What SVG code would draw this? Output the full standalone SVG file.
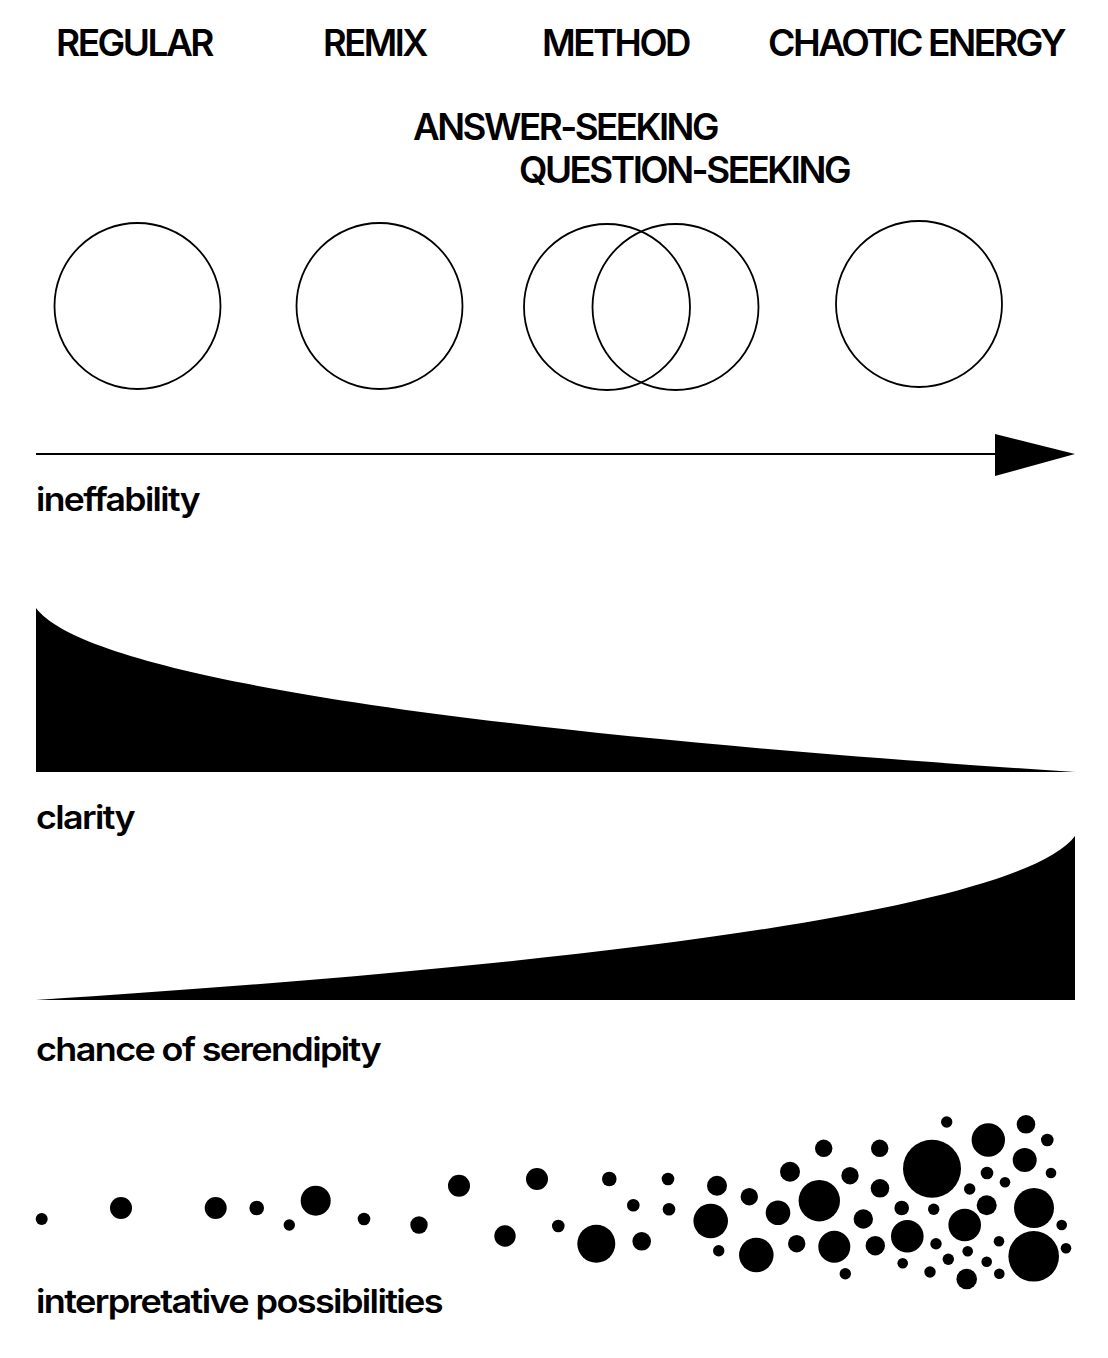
<svg xmlns="http://www.w3.org/2000/svg" width="1108" height="1358" viewBox="0 0 1108 1358">
<style>
.h{font-family:Inter,"Liberation Sans",sans-serif;font-weight:600;font-size:37px;fill:#000;letter-spacing:-2.5px}
.l{font-family:Inter,"Liberation Sans",sans-serif;font-weight:600;font-size:33px;fill:#000;letter-spacing:-1.5px}
.ring{fill:none;stroke:#000;stroke-width:1.8}
.dot{fill:#000}
</style>
<rect width="1108" height="1358" fill="#fff"/>
<g id="headers">
<text class="h" x="56" y="56" textLength="156" lengthAdjust="spacingAndGlyphs">REGULAR</text>
<text class="h" x="323" y="56" textLength="103" lengthAdjust="spacingAndGlyphs">REMIX</text>
<text class="h" x="542" y="56" textLength="147" lengthAdjust="spacingAndGlyphs">METHOD</text>
<text class="h" x="768" y="56" textLength="296" lengthAdjust="spacingAndGlyphs">CHAOTIC ENERGY</text>
<text class="h" x="413" y="140" textLength="304" lengthAdjust="spacingAndGlyphs">ANSWER-SEEKING</text>
<text class="h" x="519" y="183" textLength="330" lengthAdjust="spacingAndGlyphs">QUESTION-SEEKING</text>
</g>
<g id="circles">
<circle class="ring" cx="137.5" cy="306" r="83"/>
<circle class="ring" cx="379.5" cy="306" r="83"/>
<circle class="ring" cx="607" cy="307" r="83"/>
<circle class="ring" cx="675.5" cy="307" r="83"/>
<circle class="ring" cx="919" cy="304" r="83"/>
</g>
<g id="connectors">
<line x1="36" y1="454" x2="996" y2="454" stroke="#000" stroke-width="2"/>
<polygon points="995,434 1075,454 995,476" fill="#000"/>
</g>
<g id="ineffability">
<text class="l" x="36" y="511" textLength="163" lengthAdjust="spacingAndGlyphs">ineffability</text>
<path d="M36,608 C90,680 500,735 1075,772 L36,772 Z" fill="#000"/>
</g>
<g id="clarity">
<text class="l" x="36" y="829" textLength="98" lengthAdjust="spacingAndGlyphs">clarity</text>
<path d="M1075,836 C1021,908 611,963 36,1000 L1075,1000 Z" fill="#000"/>
</g>
<g id="serendipity">
<text class="l" x="36" y="1061" textLength="344" lengthAdjust="spacingAndGlyphs">chance of serendipity</text>
</g>
<g id="dots">
<circle class="dot" cx="41.7" cy="1219" r="6"/>
<circle class="dot" cx="121" cy="1208" r="11"/>
<circle class="dot" cx="215.7" cy="1208" r="11"/>
<circle class="dot" cx="256.7" cy="1208" r="7.3"/>
<circle class="dot" cx="289.3" cy="1225" r="5.7"/>
<circle class="dot" cx="315.7" cy="1200.7" r="15"/>
<circle class="dot" cx="364" cy="1219" r="6.3"/>
<circle class="dot" cx="419" cy="1225" r="8.7"/>
<circle class="dot" cx="459" cy="1185.7" r="11"/>
<circle class="dot" cx="505" cy="1236" r="10.7"/>
<circle class="dot" cx="537" cy="1179" r="11"/>
<circle class="dot" cx="558.3" cy="1226" r="6.3"/>
<circle class="dot" cx="596.3" cy="1243.7" r="19"/>
<circle class="dot" cx="609.3" cy="1179" r="7.3"/>
<circle class="dot" cx="633.3" cy="1205.3" r="6.3"/>
<circle class="dot" cx="641.7" cy="1241.3" r="9.3"/>
<circle class="dot" cx="668" cy="1179" r="6.3"/>
<circle class="dot" cx="669" cy="1209.3" r="6.3"/>
<circle class="dot" cx="717" cy="1185.7" r="10"/>
<circle class="dot" cx="710.7" cy="1221" r="17.3"/>
<circle class="dot" cx="718.7" cy="1250.7" r="5.7"/>
<circle class="dot" cx="749.3" cy="1196.7" r="8.7"/>
<circle class="dot" cx="756.3" cy="1255" r="17.3"/>
<circle class="dot" cx="778" cy="1212.7" r="12.3"/>
<circle class="dot" cx="790" cy="1171.7" r="10"/>
<circle class="dot" cx="819.3" cy="1200.7" r="20.7"/>
<circle class="dot" cx="823.7" cy="1148.3" r="8.7"/>
<circle class="dot" cx="796.7" cy="1243.7" r="8.7"/>
<circle class="dot" cx="834.3" cy="1246.7" r="16"/>
<circle class="dot" cx="845.3" cy="1273.7" r="5.7"/>
<circle class="dot" cx="850" cy="1175.7" r="8.7"/>
<circle class="dot" cx="863.3" cy="1219" r="9.7"/>
<circle class="dot" cx="879.7" cy="1148.3" r="8.7"/>
<circle class="dot" cx="880" cy="1188.3" r="9.3"/>
<circle class="dot" cx="875.3" cy="1245.7" r="9.7"/>
<circle class="dot" cx="901.7" cy="1208" r="7.3"/>
<circle class="dot" cx="907.3" cy="1236.3" r="16.3"/>
<circle class="dot" cx="902.7" cy="1263.3" r="5.3"/>
<circle class="dot" cx="932" cy="1168.7" r="29"/>
<circle class="dot" cx="946.7" cy="1122" r="5.7"/>
<circle class="dot" cx="933.7" cy="1209.3" r="5.7"/>
<circle class="dot" cx="936" cy="1243.7" r="5.7"/>
<circle class="dot" cx="930" cy="1272" r="5.7"/>
<circle class="dot" cx="948.3" cy="1259.3" r="5.7"/>
<circle class="dot" cx="964.7" cy="1225" r="16.3"/>
<circle class="dot" cx="967.7" cy="1251.3" r="5.3"/>
<circle class="dot" cx="966.7" cy="1279" r="10.3"/>
<circle class="dot" cx="969.7" cy="1189" r="5.7"/>
<circle class="dot" cx="987" cy="1173" r="6.3"/>
<circle class="dot" cx="988.3" cy="1140" r="16.7"/>
<circle class="dot" cx="986.7" cy="1205.3" r="10"/>
<circle class="dot" cx="999" cy="1241.3" r="5.3"/>
<circle class="dot" cx="986.7" cy="1261.7" r="5.3"/>
<circle class="dot" cx="999.3" cy="1273.7" r="5.3"/>
<circle class="dot" cx="1005" cy="1182.3" r="5.3"/>
<circle class="dot" cx="1026" cy="1124.3" r="9.3"/>
<circle class="dot" cx="1024.7" cy="1160" r="12"/>
<circle class="dot" cx="1047.3" cy="1140" r="6.3"/>
<circle class="dot" cx="1051" cy="1173" r="5.3"/>
<circle class="dot" cx="1034" cy="1208" r="20"/>
<circle class="dot" cx="1033.7" cy="1256.3" r="25.3"/>
<circle class="dot" cx="1061.7" cy="1225" r="5.3"/>
<circle class="dot" cx="1066" cy="1248.3" r="5.3"/>
</g>
<g id="interpretative">
<text class="l" x="36" y="1313" textLength="406" lengthAdjust="spacingAndGlyphs">interpretative possibilities</text>
</g>
</svg>
